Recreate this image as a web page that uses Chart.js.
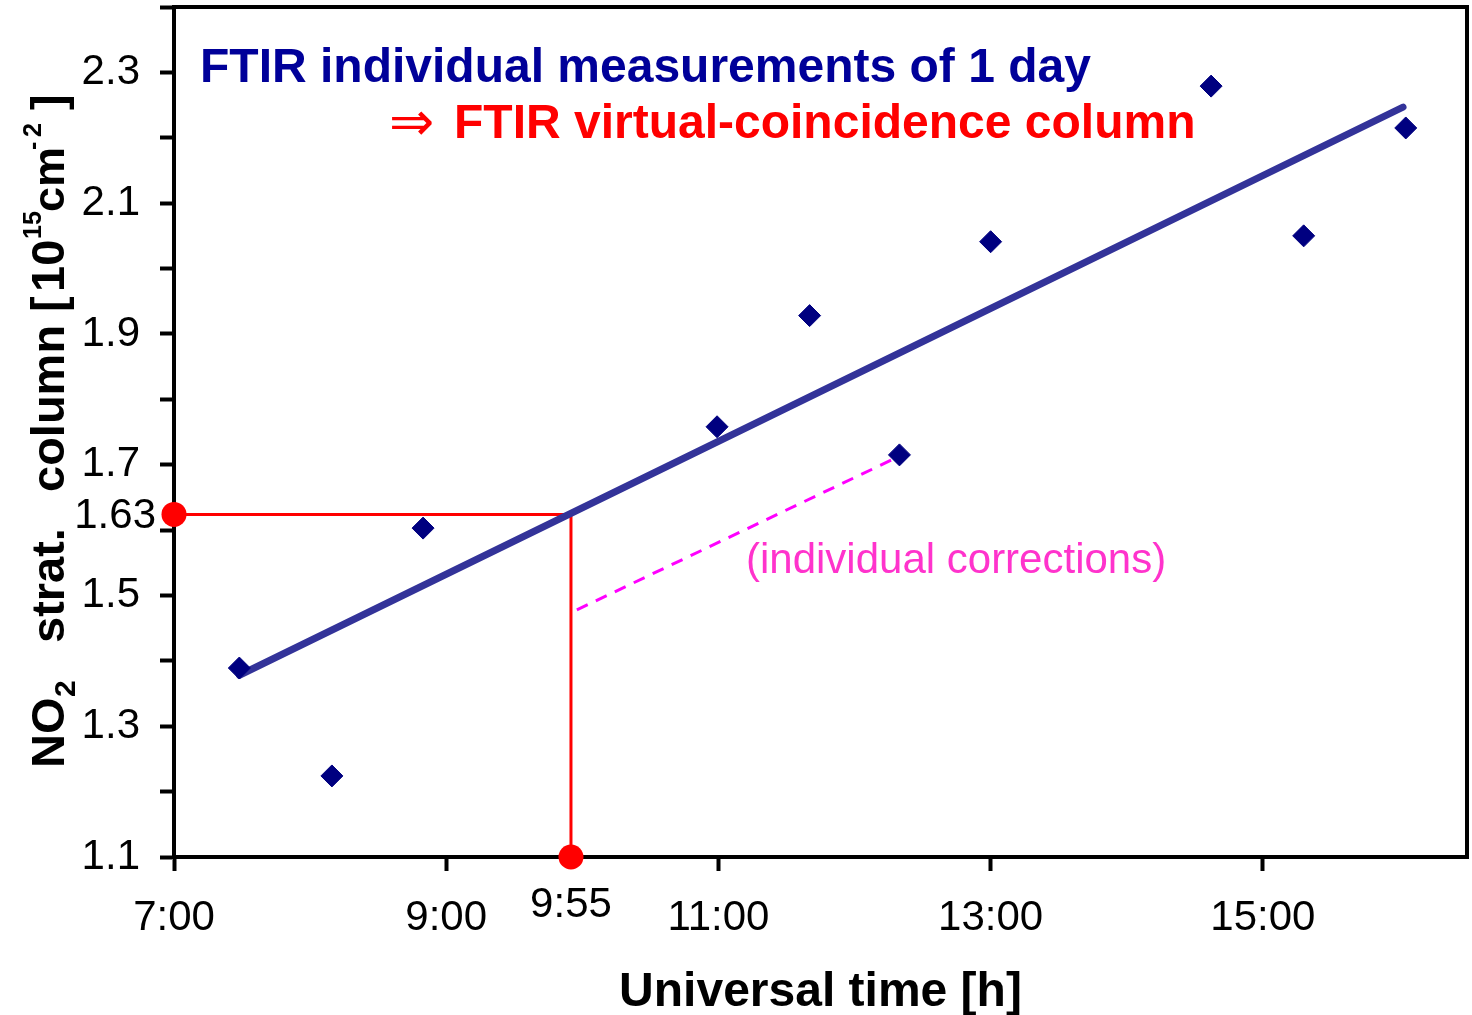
<!DOCTYPE html>
<html>
<head>
<meta charset="utf-8">
<script src="https://cdn.jsdelivr.net/npm/chart.js@4.4.1/dist/chart.umd.min.js"></script>
<style>
  html, body { margin: 0; padding: 0; background: #fff; }
  #wrap { width: 1472px; height: 1015px; position: relative; }
</style>
</head>
<body>
<div id="wrap"><canvas id="chart"></canvas></div>
<script>
// FTIR individual measurements of one day (UT hours, NO2 strat. column 1e15 cm-2)
const measTime = [7.48, 8.16, 8.83, 10.99, 11.67, 12.33, 13.00, 14.62, 15.30, 16.05];
const measCol  = [1.389, 1.224, 1.603, 1.758, 1.928, 1.715, 2.041, 2.279, 2.050, 2.215];

// linear fit over the day
const fitTime = [7.48, 16.03];
const fitCol  = [1.378, 2.247];

// virtual coincidence at 9:55
const coincTime = 9 + 55 / 60;
const coincCol  = 1.624;
const coincTimeLabel = '9:55';
const coincColLabel = '1.63';

// dashed "individual corrections" segment
const corrTime = [9.96, 12.30];
const corrCol  = [1.478, 1.710];

const xTickValues = [7, 9, 11, 13, 15];
const xTickLabels = ['7:00', '9:00', '11:00', '13:00', '15:00'];
const yTickValues = [1.1, 1.2, 1.3, 1.4, 1.5, 1.6, 1.7, 1.8, 1.9, 2.0, 2.1, 2.2, 2.3, 2.4];
const yTickLabels = ['1.1', '', '1.3', '', '1.5', '', '1.7', '', '1.9', '', '2.1', '', '2.3', ''];

const titleLine1 = 'FTIR individual measurements of 1 day';
const titleLine2 = 'FTIR virtual-coincidence column';
const noteText = '(individual corrections)';
const xTitle = 'Universal time [h]';

const FONT = '"Liberation Sans", Arial, sans-serif';

const pts = (xs, ys) => xs.map((v, i) => ({ x: v, y: ys[i] }));

// y axis title pieces (with sub/superscripts), drawn rotated
const yTitleParts = [
  { t: 'NO', size: 47, at: 768, dv: 0 },
  { t: '2', size: 30, at: 697, dv: 11 },
  { t: 'strat.', size: 47, at: 643, dv: 0 },
  { t: 'column', size: 47, at: 492, dv: 0 },
  { t: '[', size: 47, at: 312, dv: 0 },
  { t: '10', size: 47, at: 292, dv: 0 },
  { t: '15', size: 25, at: 239, dv: -23 },
  { t: 'cm', size: 45, at: 212, dv: 0 },
  { t: '-', size: 25, at: 150, dv: -23 },
  { t: '2', size: 25, at: 137, dv: -23 },
  { t: ']', size: 47, at: 110, dv: 0 }
];

const frame = {
  id: 'frame',
  beforeDatasetsDraw(chart) {
    const { ctx, chartArea: a } = chart;
    ctx.save();
    ctx.strokeStyle = '#000';
    ctx.lineWidth = 4;
    ctx.strokeRect(a.left, a.top, a.right - a.left, a.bottom - a.top);
    ctx.restore();
  },
  afterDraw(chart) {
    const { ctx, chartArea: a, scales: { x, y } } = chart;
    ctx.save();
    ctx.textBaseline = 'alphabetic';
    ctx.textAlign = 'left';

    ctx.font = 'bold 48px ' + FONT;
    ctx.fillStyle = '#000099';
    ctx.fillText(titleLine1, 200, 82);

    ctx.fillStyle = '#ff0000';
    ctx.font = '54px "DejaVu Sans", sans-serif';
    ctx.fillText('\u21D2', 389, 140);
    ctx.font = 'bold 48px ' + FONT;
    ctx.fillText(titleLine2, 454, 138);

    ctx.fillStyle = '#ff33cc';
    ctx.font = '42px ' + FONT;
    ctx.fillText(noteText, 746, 573);

    // special tick labels
    ctx.fillStyle = '#000';
    ctx.font = '42px ' + FONT;
    ctx.textBaseline = 'middle';
    ctx.textAlign = 'right';
    ctx.fillText(coincColLabel, 156, y.getPixelForValue(coincCol) + 2);
    ctx.textAlign = 'center';
    ctx.fillText(coincTimeLabel, x.getPixelForValue(coincTime), 905);

    // x title
    ctx.textBaseline = 'alphabetic';
    ctx.font = 'bold 48px ' + FONT;
    ctx.fillText(xTitle, (a.left + a.right) / 2, 1006);

    // y title
    ctx.translate(64, 0);
    ctx.rotate(-Math.PI / 2);
    ctx.textAlign = 'left';
    yTitleParts.forEach(p => {
      ctx.font = 'bold ' + p.size + 'px ' + FONT;
      ctx.fillText(p.t, -p.at, p.dv);
    });
    ctx.restore();
  }
};

const tickFont = { family: FONT, size: 42 };

new Chart(document.getElementById('chart'), {
  type: 'scatter',
  data: {
    datasets: [
      {
        data: [{ x: 7, y: coincCol }, { x: coincTime, y: coincCol }, { x: coincTime, y: 1.1 }],
        showLine: true, borderColor: '#ff0000', borderWidth: 3, pointRadius: 0,
        clip: false, order: 5
      },
      {
        data: pts(corrTime, corrCol),
        showLine: true, borderColor: '#ff00ff', borderWidth: 3, borderDash: [12, 9],
        pointRadius: 0, order: 4
      },
      {
        data: pts(fitTime, fitCol),
        showLine: true, borderColor: '#333399', borderWidth: 7, borderCapStyle: 'round',
        pointRadius: 0, order: 3
      },
      {
        data: pts(measTime, measCol),
        pointStyle: 'rectRot', pointRadius: 11, backgroundColor: '#000080',
        borderColor: '#000080', borderWidth: 1, order: 2
      },
      {
        data: [{ x: 7, y: coincCol }, { x: coincTime, y: 1.1 }],
        pointStyle: 'circle', pointRadius: 12.5, backgroundColor: '#ff0000',
        borderColor: '#ff0000', borderWidth: 0, clip: false, order: 1
      }
    ]
  },
  options: {
    responsive: true,
    maintainAspectRatio: false,
    animation: false,
    events: [],
    layout: { autoPadding: false, padding: { top: 7, right: 5, left: 0, bottom: 0 } },
    plugins: { legend: { display: false }, tooltip: { enabled: false } },
    scales: {
      x: {
        type: 'linear', min: 7, max: 16.5,
        afterBuildTicks: s => { s.ticks = xTickValues.map(v => ({ value: v })); },
        afterFit: s => { s.height = 158; s.paddingLeft = 0; s.paddingRight = 0; },
        grid: { drawOnChartArea: false, drawTicks: true, tickLength: 14, tickWidth: 4, tickColor: '#000' },
        border: { display: true, color: '#000', width: 4 },
        ticks: {
          color: '#000', font: tickFont, padding: 22, maxRotation: 0, autoSkip: false,
          callback: (v, i) => xTickLabels[i]
        }
      },
      y: {
        type: 'linear', min: 1.1, max: 2.4,
        afterBuildTicks: s => { s.ticks = yTickValues.map(v => ({ value: v })); },
        afterFit: s => { s.width = 174; s.paddingTop = 0; s.paddingBottom = 0; },
        grid: { drawOnChartArea: false, drawTicks: true, tickLength: 14, tickWidth: 4, tickColor: '#000' },
        border: { display: true, color: '#000', width: 4 },
        ticks: {
          color: '#000', font: tickFont, padding: 20, autoSkip: false,
          callback: (v, i) => yTickLabels[i]
        }
      }
    }
  },
  plugins: [frame]
});
</script>
</body>
</html>
